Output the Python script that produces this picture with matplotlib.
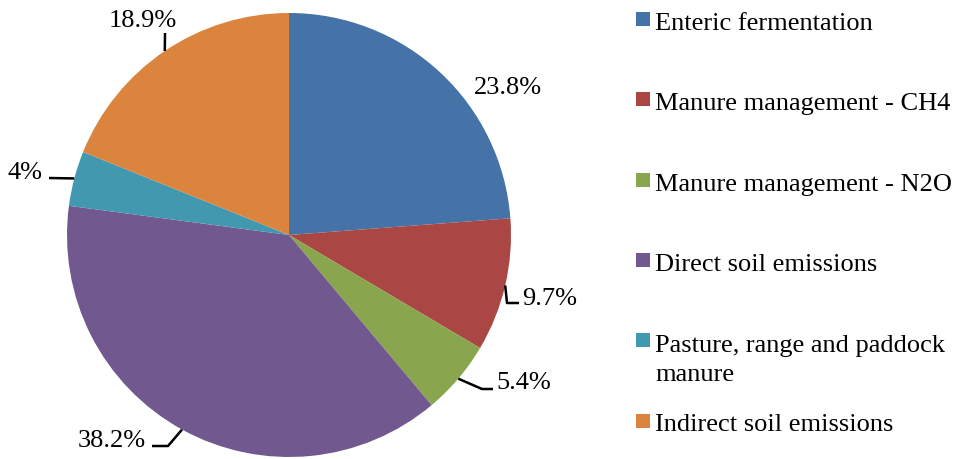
"""Pie chart: shares of agricultural emissions by source."""

import matplotlib
matplotlib.use("Agg")
import matplotlib.pyplot as plt
from matplotlib.patches import Rectangle
import numpy as np

categories = [
    "Enteric fermentation",
    "Manure management - CH4",
    "Manure management - N2O",
    "Direct soil emissions",
    "Pasture, range and paddock\nmanure",
    "Indirect soil emissions",
]
shares = [23.8, 9.7, 5.4, 38.2, 4, 18.9]
share_labels = ["23.8%", "9.7%", "5.4%", "38.2%", "4%", "18.9%"]

COLORS = ["#4572A7", "#AA4643", "#89A54E", "#71588F", "#4198AF", "#DB843D"]

W, H = 955, 460
CX, CY, R = 289, 236, 222   # pie centre and radius in pixels
FS = 19
LINE_H = 30                 # legend line height in pixels


def px(x, y):
    """pixel -> pie data coords (radius 1)."""
    return (x - CX) / R, (CY - y) / R


# label text centre and leader elbow points (pixels), None = no leader
LABEL_POS = [(508, 88), (550, 299), (524, 383), (112, 441), (25, 173), (143, 21)]
LEADERS = [
    None,
    [(507, 304), (519, 304)],
    [(482, 390), (493, 390)],
    [(168, 447), (152, 447)],
    [(49, 179)],
    [(165, 34)],
]


def main() -> None:
    plt.rcParams["font.family"] = ["Liberation Serif", "DejaVu Serif"]
    fig = plt.figure(figsize=(W / 100, H / 100), dpi=100)
    ax = fig.add_axes([(CX - R) / W, (H - CY - R) / H, 2 * R / W, 2 * R / H])

    wedges, _ = ax.pie(shares, colors=COLORS, startangle=90, counterclock=False,
                       radius=1, wedgeprops=dict(linewidth=0))
    ax.set_xlim(-1, 1)
    ax.set_ylim(-1, 1)
    ax.set_aspect("equal")
    ax.axis("off")

    for w, lab, pos, lead in zip(wedges, share_labels, LABEL_POS, LEADERS):
        ax.text(*px(*pos), lab, ha="center", va="center", fontsize=FS,
                clip_on=False)
        if lead is None:
            continue
        mid = np.deg2rad((w.theta1 + w.theta2) / 2)
        xs = [np.cos(mid)] + [px(*p)[0] for p in lead]
        ys = [np.sin(mid)] + [px(*p)[1] for p in lead]
        ax.plot(xs, ys, color="black", lw=1.8, clip_on=False,
                solid_capstyle="butt")

    # legend on the right: square centre per row, first baseline 10 px below
    for i, (name, col) in enumerate(zip(categories, COLORS)):
        y = 20 + 80.3 * i
        fig.patches.append(Rectangle((636 / W, 1 - (y + 7) / H), 14 / W, 14 / H,
                                     transform=fig.transFigure,
                                     facecolor=col, edgecolor="none"))
        extra = LINE_H * name.count("\n")   # va=baseline anchors the last line
        fig.text(655 / W, 1 - (y + 10 + extra) / H, name, ha="left",
                 va="baseline", fontsize=FS, linespacing=1.4)

    fig.savefig("out.png", dpi=100, facecolor="white")


if __name__ == "__main__":
    main()
